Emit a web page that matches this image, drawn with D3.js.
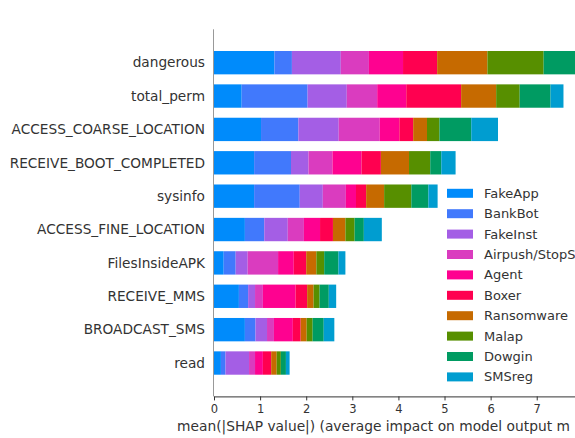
<!DOCTYPE html>
<html>
<head>
<meta charset="utf-8">
<script src="https://cdn.jsdelivr.net/npm/d3@7"></script>
<style>
  html, body { margin: 0; padding: 0; background: #fff; }
  svg { display: block; font-family: "DejaVu Sans", sans-serif; }
</style>
</head>
<body>
<svg id="chart" width="575" height="438"></svg>
<script>
// Features, top to bottom
const features = ["dangerous", "total_perm", "ACCESS_COARSE_LOCATION", "RECEIVE_BOOT_COMPLETED",
  "sysinfo", "ACCESS_FINE_LOCATION", "FilesInsideAPK", "RECEIVE_MMS", "BROADCAST_SMS", "read"];

// Malware families (stack order, left to right); the last legend entries run into the page edge
const classes = ["FakeApp", "BankBot", "FakeInst", "Airpush/StopS", "Agent",
  "Boxer", "Ransomware", "Malap", "Dowgin", "SMSreg"];

const classColors = ["#008bfb", "#4179fc", "#a45ee5", "#da3cbf", "#fe0290",
  "#ff0050", "#c66a00", "#578f00", "#009b62", "#009dd0"];

// mean(|SHAP value|) per class, one array per family, in feature order
const FakeApp    = [1.31, 0.60, 1.02, 0.87, 0.87, 0.67, 0.21, 0.54, 0.67, 0.15];
const BankBot    = [0.38, 1.43, 0.81, 0.80, 0.99, 0.42, 0.26, 0.20, 0.23, 0.10];
const FakeInst   = [1.06, 0.85, 0.875, 0.38, 0.50, 0.51, 0.26, 0.15, 0.25, 0.51];
const Airpush    = [0.61, 0.66, 0.89, 0.52, 0.50, 0.35, 0.66, 0.17, 0.15, 0.13];
const Agent      = [0.74, 0.63, 0.425, 0.63, 0.22, 0.35, 0.34, 0.71, 0.41, 0.17];
const Boxer      = [0.74, 1.19, 0.30, 0.42, 0.22, 0.28, 0.27, 0.25, 0.17, 0.18];
const Ransomware = [1.09, 0.76, 0.30, 0.61, 0.39, 0.27, 0.22, 0.14, 0.13, 0.12];
const Malap      = [1.22, 0.51, 0.27, 0.46, 0.59, 0.20, 0.17, 0.13, 0.13, 0.09];
const Dowgin     = [0.76, 0.67, 0.69, 0.24, 0.37, 0.20, 0.31, 0.20, 0.24, 0.11];
const SMSreg     = [0.25, 0.28, 0.58, 0.31, 0.20, 0.39, 0.15, 0.16, 0.23, 0.08];

const classValues = [FakeApp, BankBot, FakeInst, Airpush, Agent, Boxer, Ransomware, Malap, Dowgin, SMSreg];

const xTicks = [0, 1, 2, 3, 4, 5, 6, 7];
const xLabel = "mean(|SHAP value|) (average impact on model output m";

const svg = d3.select("#chart");
const textColor = "#333333";

const x = d3.scaleLinear().domain([0, 7.83]).range([214, 575]);
// rows indexed from bottom (0 = last feature); limits -1 .. n
const n = features.length;
const y = d3.scaleLinear().domain([-1, n]).range([396.4, 29.3]);
const rowStep = y(0) - y(1);
const barH = rowStep * 0.7;

// build stacked rows
const rows = features.map((f, i) => {
  const obj = { feature: f, pos: n - 1 - i };
  classes.forEach((c, k) => obj[c] = classValues[k][i]);
  return obj;
});
const stack = d3.stack().keys(classes)(rows);

const g = svg.append("g");
stack.forEach((layer, k) => {
  g.selectAll(null).data(layer).enter().append("rect")
    .attr("x", d => x(d[0]))
    .attr("y", d => y(d.data.pos) - barH / 2)
    .attr("width", d => x(d[1]) - x(d[0]))
    .attr("height", barH)
    .attr("fill", classColors[k]);
});

// left spine
svg.append("line")
  .attr("x1", x(0) - 0.5).attr("x2", x(0) - 0.5)
  .attr("y1", y(n)).attr("y2", y(-1))
  .attr("stroke", "#999").attr("stroke-width", 1);

// y labels
svg.selectAll(".ylab").data(rows).enter().append("text")
  .attr("x", 205)
  .attr("y", d => y(d.pos))
  .attr("dy", "0.35em")
  .attr("text-anchor", "end")
  .attr("font-size", 13.7)
  .attr("fill", textColor)
  .text(d => d.feature);

// x axis
const xAxis = d3.axisBottom(x).tickValues(xTicks).tickFormat(d3.format("d")).tickSize(4).tickSizeOuter(0);
const ax = svg.append("g").attr("transform", `translate(0,${y(-1)})`).call(xAxis);
ax.select(".domain").attr("stroke", "#333").attr("stroke-width", 1);
ax.selectAll(".tick line").attr("stroke", "#333");
ax.selectAll(".tick text").attr("font-size", 11.5).attr("fill", textColor)
  .attr("font-family", "DejaVu Sans, sans-serif").attr("dy", "0.85em");

svg.append("text")
  .attr("x", 177).attr("y", 431)
  .attr("font-size", 13.8)
  .attr("fill", textColor)
  .text(xLabel);

// legend
const leg = svg.append("g");
classes.forEach((c, k) => {
  const cy = 193.3 + k * 20.4;
  leg.append("rect").attr("x", 447).attr("y", cy - 4.5).attr("width", 26).attr("height", 9)
    .attr("fill", classColors[k]);
  leg.append("text").attr("x", 484).attr("y", cy).attr("dy", "0.35em")
    .attr("font-size", 13).attr("fill", textColor).text(c);
});
</script>
</body>
</html>
